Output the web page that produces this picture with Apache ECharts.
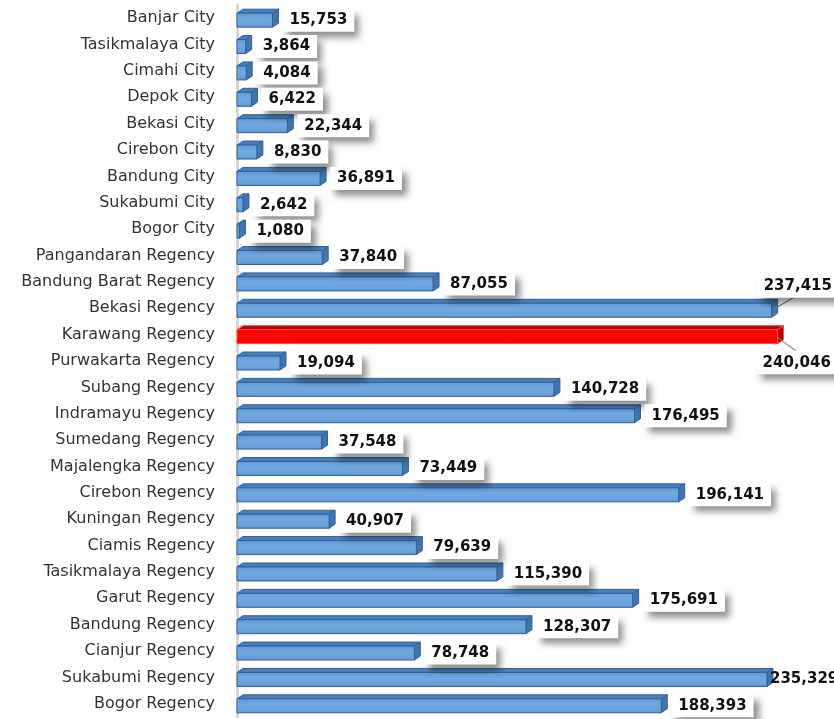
<!DOCTYPE html>
<html>
<head>
<meta charset="utf-8">
<script src="https://cdn.jsdelivr.net/npm/echarts@6/dist/echarts.min.js"></script>
<style>
html,body{margin:0;padding:0;background:#fff;}
#chart{width:834px;height:719px;}
</style>
</head>
<body>
<div id="chart"></div>
<script>
var categories = ["Banjar City","Tasikmalaya City","Cimahi City","Depok City","Bekasi City","Cirebon City","Bandung City","Sukabumi City","Bogor City","Pangandaran Regency","Bandung Barat Regency","Bekasi Regency","Karawang Regency","Purwakarta Regency","Subang Regency","Indramayu Regency","Sumedang Regency","Majalengka Regency","Cirebon Regency","Kuningan Regency","Ciamis Regency","Tasikmalaya Regency","Garut Regency","Bandung Regency","Cianjur Regency","Sukabumi Regency","Bogor Regency"];
var values = [15753,3864,4084,6422,22344,8830,36891,2642,1080,37840,87055,237415,240046,19094,140728,176495,37548,73449,196141,40907,79639,115390,175691,128307,78748,235329,188393];
var highlighted = "Karawang Regency";

var chart = echarts.init(document.getElementById('chart'));

function fmt(v){ return v.toLocaleString('en-US'); }

var DX = 6, DY = -4;

function renderItem(params, api){
  var v = api.value(0), i = api.value(1);
  var p0 = api.coord([0, i]);
  var p1 = api.coord([v, i]);
  var cy = p0[1], x0 = p0[0], x1 = p1[0];
  var name = categories[i];
  var red = name === highlighted;
  var frontFill = red ? new echarts.graphic.LinearGradient(0,0,0,1,[{offset:0,color:'#f20000'},{offset:0.5,color:'#ff0a0a'},{offset:1,color:'#f20000'}])
                      : new echarts.graphic.LinearGradient(0,0,0,1,[{offset:0,color:'#6198d2'},{offset:0.4,color:'#72a8e0'},{offset:0.8,color:'#6aa1db'},{offset:1,color:'#5a90cb'}]);
  var stroke = red ? '#ff4a4a' : '#31629a';
  var topFill = red ? '#c00000' : '#4b7fb9';
  var sideFill = red ? '#a80000' : '#4275ae';
  var ft = cy - 5, fb = cy + 9;
  var children = [
    {type:'polygon', z2:1, shape:{points:[[x0,ft],[x0+DX,ft+DY],[x1+DX,ft+DY],[x1,ft]]}, style:{fill:topFill, stroke:stroke, lineWidth:1}},
    {type:'polygon', z2:1, shape:{points:[[x1,ft],[x1+DX,ft+DY],[x1+DX,fb+DY],[x1,fb]]}, style:{fill:sideFill, stroke:stroke, lineWidth:1}},
    {type:'rect', z2:2, shape:{x:x0, y:ft, width:Math.max(x1-x0,0.5), height:fb-ft}, style:{fill:frontFill, stroke:stroke, lineWidth:1}}
  ];
  var lx = x1 + DX + 4, ly = cy + 2, bg = '#ffffff', pad = [4,7,4,7], shadow = true;
  if (name === 'Bekasi Regency') {
    lx = x1 - 15; ly = cy - 22;
    children.push({type:'line', z2:50, shape:{x1:x1+2, y1:cy+1, x2:x1+24, y2:cy-12}, style:{stroke:'#7f7f7f', lineWidth:1.2}});
  } else if (name === 'Karawang Regency') {
    lx = x1 - 22; ly = cy + 28;
    children.push({type:'line', z2:50, shape:{x1:x1, y1:cy+3, x2:x1+18, y2:cy+16}, style:{stroke:'#7f7f7f', lineWidth:1.2}});
  } else if (name === 'Sukabumi Regency') {
    lx = x1 + 3; pad = [4,7,4,0]; bg = 'rgba(255,255,255,0)'; shadow = false;
  }
  children.push({
    type:'text', z2:100, x:lx, y:ly,
    style:{
      text: fmt(v), fill:'#111111',
      fontFamily:'DejaVu Sans', fontSize:15, fontWeight:'bold',
      align:'left', verticalAlign:'middle',
      backgroundColor:bg, padding:pad,
      shadowColor: shadow ? 'rgba(0,0,0,0.45)' : 'rgba(0,0,0,0)', shadowBlur: shadow ? 7 : 0, shadowOffsetX:5, shadowOffsetY:6
    }
  });
  return {type:'group', children:children};
}

chart.setOption({
  animation:false,
  grid:{left:237, right:34, top:5, bottom:2, containLabel:false},
  xAxis:{type:'value', min:0, max:250000, show:false},
  yAxis:{
    type:'category', data:categories, inverse:true,
    axisLine:{show:true, lineStyle:{color:'#d6d6d6', width:3}},
    axisTick:{show:false},
    axisLabel:{color:'#333333', fontFamily:'DejaVu Sans', fontSize:16, margin:22, padding:[7,0,0,0]}
  },
  series:[{
    type:'custom',
    renderItem:renderItem,
    encode:{x:0, y:1},
    data: values.map(function(v,i){ return [v,i]; })
  }]
});
</script>
</body>
</html>
